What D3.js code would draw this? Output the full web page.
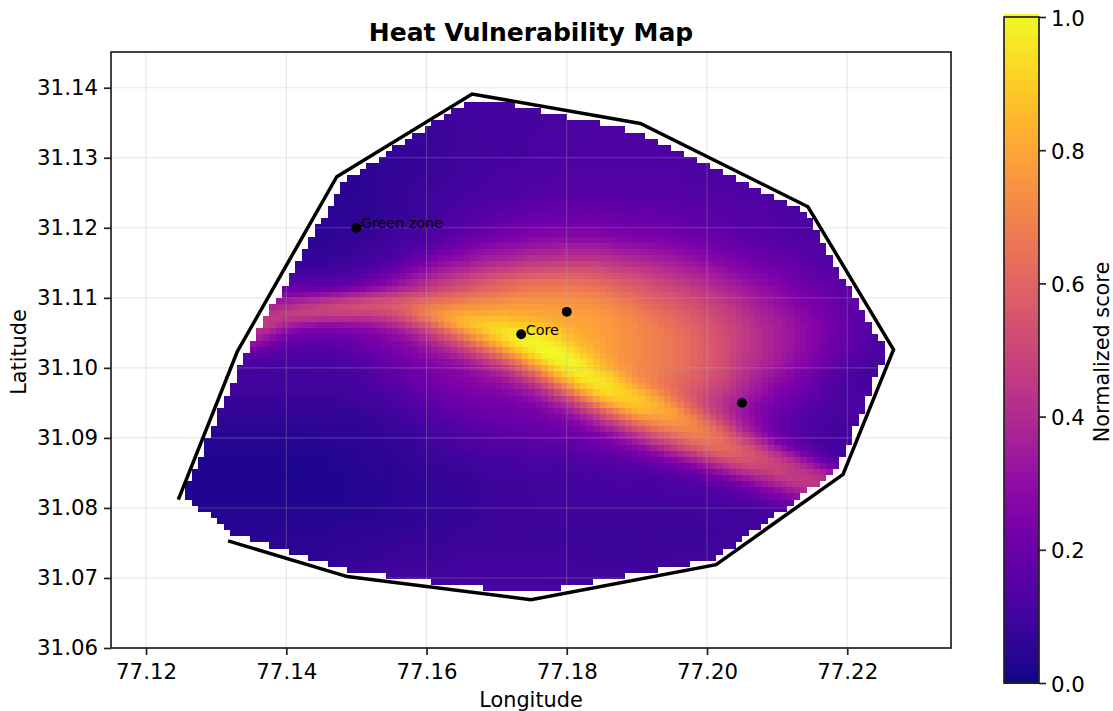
<!DOCTYPE html>
<html><head><meta charset="utf-8">
<script src="https://cdnjs.cloudflare.com/ajax/libs/d3/7.8.5/d3.min.js"></script>
<style>html,body{margin:0;padding:0;background:#fff}svg{display:block}text{font-family:"DejaVu Sans",sans-serif;fill:#000}</style>
</head><body><svg id="c" width="1113" height="711"></svg>
<script>
const chartTitle = "Heat Vulnerability Map";
const xLabel = "Longitude", yLabel = "Latitude", barLabel = "Normalized score";
const xTicks = [77.12,77.14,77.16,77.18,77.20,77.22];
const yTicks = [31.06,31.07,31.08,31.09,31.10,31.11,31.12,31.13,31.14];
const barTicks = [0,0.2,0.4,0.6,0.8,1];
const xDomain = [77.115,77.2348], yDomain = [31.06,31.1451];
const hullLon = [77.1246,77.1330,77.1472,77.1665,77.1905,77.2144,77.2266,77.2194,77.2013,77.1749,77.1487,77.1317];
const hullLat = [31.0812,31.1023,31.1273,31.1391,31.1349,31.1230,31.1026,31.0848,31.0719,31.0669,31.0702,31.0753];
const maskLon = [77.1648,77.1722,77.1902,77.2143,77.2253,77.2253,77.2190,77.2013,77.1792,77.1681,77.1487,77.1320,77.1252,77.1252,77.1338,77.1478];
const maskLat = [31.1381,31.1381,31.1340,31.1227,31.1037,31.1005,31.0850,31.0723,31.0681,31.0681,31.0706,31.0758,31.0814,31.0829,31.1023,31.1269];
const siteLon = [77.15,77.1735,77.18,77.205];
const siteLat = [31.12,31.1048,31.108,31.095];
const siteName = ["Green zone","Core","",""];
// Picture cell raster of the original map
const cellLon = [77.12556,77.22532], cellLat = [31.13796,31.06809], cellCols = 108, cellRows = 80;
// Scores in hundredths at these sample positions
const sampleLon0 = 77.125, sampleStep = 0.0025;
const sampleLat = [31.14,31.1375,31.135,31.1325,31.13,31.1275,31.125,31.1225,31.12,31.1175,31.115,
 31.1125,31.11125,31.11,31.10875,31.1075,31.10625,31.105,31.10375,31.1025,31.10125,31.1,31.09875,31.0975,31.09625,31.095,31.09375,31.0925,31.09125,31.09,31.08875,31.0875,31.08625,31.085,31.08375,31.0825,
 31.08,31.0775,31.075,31.0725,31.07,31.0675];
const scoreRows = [
[5,5,5,5,5,5,5,5,5,5,6,7,8,8,9,10,10,11,11,12,12,12,12,12,12,12,12,12,12,12,12,12,12,12,12,12,12,12,12,12,12,12],
[5,5,5,5,5,5,5,5,5,5,6,7,8,8,9,10,10,11,11,12,12,12,12,12,12,12,12,12,12,12,12,12,12,12,12,12,12,12,12,12,12,12],
[5,5,5,5,5,5,5,5,5,5,6,7,7,8,9,9,10,10,11,11,11,12,12,12,12,12,12,12,12,12,12,12,12,12,12,12,12,12,12,12,12,12],
[5,5,5,5,5,5,5,5,5,5,6,7,7,8,8,9,10,10,11,11,12,12,12,13,13,13,13,13,12,12,12,12,12,12,12,12,12,12,12,12,12,12],
[5,5,5,5,5,5,5,5,5,5,6,6,7,7,8,9,10,10,11,11,12,12,13,13,13,13,13,13,13,12,12,12,12,12,11,11,11,11,11,11,11,11],
[5,5,5,5,5,5,5,5,5,5,5,6,7,7,8,9,10,11,12,12,13,13,14,14,14,14,14,14,14,13,13,12,12,12,12,11,11,11,11,11,11,11],
[5,5,5,5,5,5,5,5,5,5,5,6,7,8,9,10,11,12,12,13,14,15,15,15,15,15,15,15,15,14,14,14,13,13,12,11,11,11,11,11,11,11],
[5,5,5,5,5,5,5,5,5,5,6,6,7,8,9,11,13,14,15,17,18,18,19,19,19,18,18,18,17,16,16,15,14,14,13,12,12,11,11,11,11,11],
[5,5,5,5,5,5,5,5,5,6,6,7,9,10,11,13,15,17,19,20,22,23,23,23,23,22,21,21,20,19,18,17,15,15,14,12,12,11,11,11,11,11],
[6,6,6,6,6,6,6,6,6,7,8,9,11,13,15,19,23,26,28,30,32,33,34,34,33,31,30,29,27,25,23,21,19,17,16,15,14,13,12,12,12,12],
[7,7,7,7,7,7,7,8,8,9,10,12,15,20,25,30,33,37,40,42,45,46,47,47,46,43,41,39,36,33,30,27,24,22,20,18,16,14,13,13,12,12],
[14,14,14,14,14,14,14,14,14,15,17,21,26,32,38,43,48,52,56,59,61,62,62,61,59,56,53,49,46,42,39,35,31,28,25,22,19,17,15,14,13,13],
[18,18,18,18,18,18,20,20,21,23,27,31,36,41,46,51,55,59,62,65,67,68,68,67,65,61,58,54,51,47,43,39,35,31,28,24,21,18,16,15,14,14],
[30,30,30,30,30,30,30,33,36,39,43,47,49,54,58,62,65,68,70,72,73,73,73,72,70,66,62,58,55,51,47,43,38,34,30,26,23,20,17,15,14,14],
[32,32,32,32,32,37,40,44,47,50,52,54,56,61,67,70,73,75,76,77,77,77,76,75,73,70,66,62,58,54,50,46,41,36,32,28,24,21,18,16,14,14],
[36,36,36,36,38,44,46,47,46,46,46,47,50,58,68,77,81,82,83,82,81,80,79,78,76,73,69,65,61,57,53,48,43,38,34,30,25,22,18,16,14,14],
[40,40,40,40,42,45,38,34,32,32,33,35,40,48,58,71,83,88,90,89,87,84,81,79,77,74,71,67,63,59,55,50,45,40,36,31,27,23,19,16,14,14],
[40,40,40,40,42,36,28,23,22,23,25,27,31,37,47,58,71,83,92,96,95,91,85,81,78,75,72,69,65,61,56,51,46,41,36,32,27,23,18,15,13,13],
[36,36,36,36,34,26,19,17,17,18,20,23,26,30,37,46,57,70,84,95,99,97,90,83,79,75,72,69,66,62,57,52,46,41,36,32,27,22,18,15,13,13],
[25,25,25,25,22,17,15,14,14,15,17,20,23,26,31,37,45,56,69,84,96,100,96,87,80,75,72,69,66,62,57,52,46,41,36,31,26,21,17,14,12,12],
[16,16,16,16,14,13,12,12,12,13,15,17,20,23,27,31,36,44,54,68,85,96,99,93,83,76,72,69,66,62,57,52,45,40,35,30,25,20,15,13,12,12],
[12,12,12,12,12,11,11,11,11,12,13,15,18,21,24,27,30,35,42,53,69,86,97,96,87,78,72,69,65,61,56,51,44,38,33,28,23,18,14,12,11,11],
[10,10,10,10,10,10,10,10,11,11,12,14,16,19,22,25,27,30,34,42,54,72,89,96,93,83,74,69,64,60,55,49,42,36,31,26,21,16,13,11,11,11],
[10,10,10,10,10,10,10,10,10,10,11,13,15,17,20,23,25,27,29,34,42,56,74,90,95,90,79,70,63,58,53,47,40,34,28,24,19,14,12,11,11,11],
[9,9,9,9,9,9,9,9,9,9,10,11,13,15,18,21,22,24,25,28,33,43,58,76,90,91,87,77,66,57,50,44,37,31,25,21,18,14,12,12,12,12],
[8,8,8,8,8,8,8,8,8,8,9,10,12,14,16,19,20,22,23,24,27,33,43,58,75,86,88,83,72,60,49,42,34,28,23,19,16,13,12,12,12,12],
[7,7,7,7,7,7,7,7,7,7,8,9,10,12,14,17,18,20,21,22,23,27,33,44,58,72,82,82,78,66,53,43,33,27,21,17,14,12,12,12,12,12],
[6,6,6,6,6,6,6,6,6,6,7,8,9,11,13,15,16,18,19,20,21,23,26,33,44,56,68,74,76,72,60,47,35,27,20,16,13,12,11,12,12,12],
[5,5,5,5,5,5,5,5,5,6,6,7,8,9,11,13,14,16,17,18,19,20,22,26,33,42,53,63,69,71,66,55,40,29,21,16,13,11,11,12,12,12],
[4,4,4,4,4,4,4,4,5,5,6,6,7,8,10,12,13,14,15,16,17,18,19,21,25,31,40,50,58,65,66,60,48,35,24,17,13,11,11,12,12,12],
[4,4,4,4,4,4,4,4,4,5,5,6,6,7,9,10,12,13,14,14,15,15,16,18,20,24,29,37,46,54,61,62,56,46,33,22,15,11,11,12,12,12],
[3,3,3,3,3,3,3,3,3,4,5,5,6,7,8,9,10,11,12,12,13,13,14,15,16,18,21,26,33,41,50,56,56,52,44,33,22,14,11,11,11,11],
[3,3,3,3,3,3,3,3,3,4,4,5,5,6,7,8,9,10,11,11,12,12,12,13,14,15,16,18,22,28,36,44,50,51,48,42,32,22,15,15,15,15],
[3,3,3,3,3,3,2,2,3,3,4,5,5,6,7,8,8,9,10,10,11,11,11,12,12,13,13,14,16,19,25,32,39,44,47,45,42,34,26,26,26,26],
[3,3,3,3,3,3,3,3,3,3,4,4,5,6,6,7,7,8,9,9,10,10,10,11,11,12,12,12,13,14,17,21,27,34,40,44,44,42,38,38,38,38],
[3,3,3,3,3,3,3,3,3,3,4,4,5,6,6,7,7,8,9,9,10,10,10,10,11,11,11,11,12,12,13,15,18,24,30,36,42,44,44,44,44,44],
[3,3,3,3,3,3,3,3,3,3,4,4,5,6,6,7,7,8,9,9,9,10,10,10,10,10,10,10,10,10,11,11,11,12,14,16,18,20,20,20,20,20],
[4,4,4,4,4,4,4,4,4,5,5,5,6,6,7,7,8,8,9,9,9,9,9,9,9,9,9,9,9,9,9,10,10,10,10,10,10,10,10,10,10,10],
[5,5,5,5,5,5,5,5,5,6,6,7,7,8,8,8,9,9,9,9,9,9,9,9,9,8,9,9,9,9,9,10,10,10,10,10,10,10,10,10,10,10],
[6,6,6,6,6,6,6,6,6,7,7,8,9,9,9,9,10,10,10,10,10,10,10,9,9,9,9,9,10,10,10,10,10,10,10,10,10,10,10,10,10,10],
[8,8,8,8,8,8,8,8,8,9,9,9,10,10,10,10,11,11,11,11,11,11,11,10,10,10,10,10,10,10,10,10,10,10,10,10,10,10,10,10,10,10],
[8,8,8,8,8,8,8,8,8,9,9,9,10,10,10,10,11,11,11,11,11,11,11,10,10,10,10,10,10,10,10,10,10,10,10,10,10,10,10,10,10,10]
];

const box = {l:111,r:951,t:52,b:648};
const bar = {l:1004,r:1039,t:17,b:683};
const x = d3.scaleLinear().domain(xDomain).range([box.l,box.r]);
const y = d3.scaleLinear().domain(yDomain).range([box.b,box.t]);
const barY = d3.scaleLinear().domain([0,1]).range([bar.b,bar.t]);
const svg = d3.select("#c");

// Smooth display resampling (Catmull-Rom) of the estimated samples onto the picture's cell raster
const rowIndex = d3.scaleLinear().domain(sampleLat).range(sampleLat.map((d,i)=>i)).clamp(true);
function cr(p0,p1,p2,p3,t){return .5*(2*p1+(p2-p0)*t+(2*p0-5*p1+4*p2-p3)*t*t+(3*p1-p0-3*p2+p3)*t*t*t);}
function score(lon,lat){
  const nC=scoreRows[0].length, nR=scoreRows.length;
  const c=Math.max(0,Math.min(nC-1,(lon-sampleLon0)/sampleStep)), r=rowIndex(lat);
  const c1=Math.min(nC-2,Math.floor(c)), r1=Math.min(nR-2,Math.floor(r));
  const fc=c-c1, fr=r-r1;
  const at=(rr,cc)=>scoreRows[Math.max(0,Math.min(nR-1,rr))][Math.max(0,Math.min(nC-1,cc))];
  const row=rr=>cr(at(rr,c1-1),at(rr,c1),at(rr,c1+1),at(rr,c1+2),fc);
  const v=cr(row(r1-1),row(r1),row(r1+1),row(r1+2),fr)/100;
  return Math.max(0,Math.min(1,v));
}
const maskPoly = maskLon.map((v,i)=>[v,maskLat[i]]);
const dLon=(cellLon[1]-cellLon[0])/cellCols, dLat=(cellLat[0]-cellLat[1])/cellRows;
const cells=[];
for(let j=0;j<cellRows;j++)for(let i=0;i<cellCols;i++){
  const lon=cellLon[0]+(i+.5)*dLon, lat=cellLat[0]-(j+.5)*dLat;
  const inside=[[-.4,-.4],[.4,-.4],[-.4,.4],[.4,.4]].every(o=>d3.polygonContains(maskPoly,[lon+o[0]*dLon,lat+o[1]*dLat]));
  if(inside) cells.push({i,j,v:score(lon,lat)});
}
const edgeX=i=>Math.round(x(cellLon[0]+i*dLon)), edgeY=j=>Math.round(y(cellLat[0]-j*dLat));
svg.append("g").attr("shape-rendering","crispEdges").selectAll("rect").data(cells).join("rect")
  .attr("x",d=>edgeX(d.i)).attr("y",d=>edgeY(d.j))
  .attr("width",d=>edgeX(d.i+1)-edgeX(d.i)).attr("height",d=>edgeY(d.j+1)-edgeY(d.j))
  .attr("fill",d=>d3.interpolatePlasma(d.v));

// grid
const grid=svg.append("g").attr("stroke","#b0b0b0").attr("stroke-opacity",.3).attr("stroke-width",1.1);
grid.selectAll(".gx").data(xTicks).join("line").attr("x1",d=>x(d)).attr("x2",d=>x(d)).attr("y1",box.t).attr("y2",box.b);
grid.selectAll(".gy").data(yTicks).join("line").attr("y1",d=>y(d)).attr("y2",d=>y(d)).attr("x1",box.l).attr("x2",box.r);

// hull
svg.append("path").datum(hullLon.map((v,i)=>[v,hullLat[i]]))
  .attr("d",d3.line().x(d=>x(d[0])).y(d=>y(d[1]))).attr("fill","none").attr("stroke","#000").attr("stroke-width",3.5).attr("stroke-linejoin","miter");

// sites
svg.append("g").selectAll("circle").data(siteLon).join("circle")
  .attr("cx",d=>x(d)).attr("cy",(d,i)=>y(siteLat[i])).attr("r",4.9).attr("fill","#000");
svg.append("g").selectAll("text").data(siteName).join("text")
  .attr("x",(d,i)=>x(siteLon[i])+4.5).attr("y",(d,i)=>y(siteLat[i])+0.5).attr("font-size",14.3).text(d=>d);

// axes
function style(g){g.select(".domain").remove();g.selectAll("line").attr("stroke","#222").attr("stroke-width",1.7);g.selectAll("text").attr("font-size",21.3).attr("fill","#000");}
svg.append("g").attr("transform",`translate(0,${box.b})`).call(d3.axisBottom(x).tickValues(xTicks).tickFormat(d3.format(".2f")).tickSize(7).tickPadding(9)).call(style);
svg.append("g").attr("transform",`translate(${box.l},0)`).call(d3.axisLeft(y).tickValues(yTicks).tickFormat(d3.format(".2f")).tickSize(7).tickPadding(6)).call(style);
svg.append("rect").attr("x",box.l).attr("y",box.t).attr("width",box.r-box.l).attr("height",box.b-box.t).attr("fill","none").attr("stroke","#222").attr("stroke-width",1.7);

svg.append("text").attr("x",531).attr("y",41).attr("text-anchor","middle").attr("font-size",25).attr("font-weight","bold").text(chartTitle);
svg.append("text").attr("x",531).attr("y",707).attr("text-anchor","middle").attr("font-size",20.8).text(xLabel);
svg.append("text").attr("transform","translate(26,352) rotate(-90)").attr("text-anchor","middle").attr("font-size",20.8).text(yLabel);

// colour bar
const barSteps=d3.range(0,256).map(d=>d/255);
svg.append("g").attr("shape-rendering","crispEdges").selectAll("rect").data(barSteps).join("rect")
  .attr("x",bar.l).attr("width",bar.r-bar.l).attr("y",d=>barY(d)-(bar.b-bar.t)/255-.5).attr("height",(bar.b-bar.t)/255+1)
  .attr("fill",d=>d3.interpolatePlasma(d));
svg.append("rect").attr("x",bar.l).attr("y",bar.t).attr("width",bar.r-bar.l).attr("height",bar.b-bar.t).attr("fill","none").attr("stroke","#222").attr("stroke-width",1.7);
svg.append("g").attr("transform",`translate(${bar.r},0)`).call(d3.axisRight(barY).tickValues(barTicks).tickFormat(d3.format(".1f")).tickSize(7).tickPadding(5)).call(style).selectAll("text").attr("dy","0.38em");
svg.append("text").attr("transform","translate(1109,352) rotate(-90)").attr("text-anchor","middle").attr("font-size",20.8).text(barLabel);
</script></body></html>
